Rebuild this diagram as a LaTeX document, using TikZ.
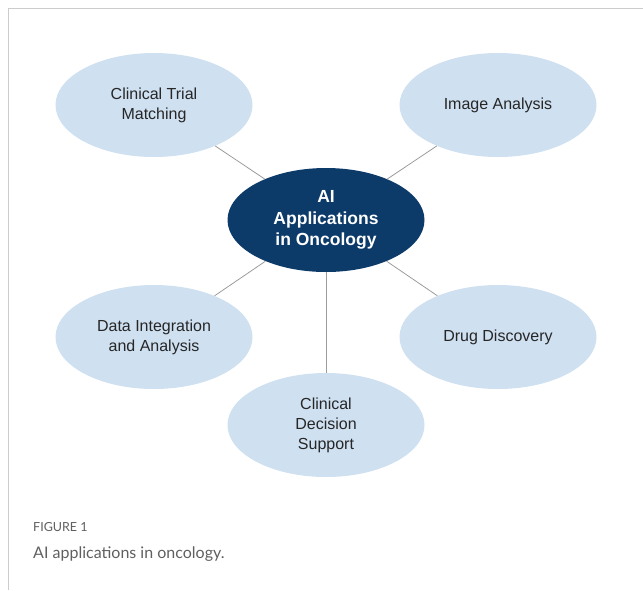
\documentclass[tikz,border=0pt]{standalone}
\usepackage{fontspec}
\setmainfont{Liberation Sans}
\newfontfamily\capfont{Lato}
\usetikzlibrary{shapes.geometric}
\definecolor{paleblue}{HTML}{CFE0F1}
\definecolor{navyblue}{HTML}{0C3A69}
\definecolor{linkgray}{HTML}{9C9C9C}
\definecolor{framegray}{HTML}{CCCCCC}
\definecolor{capgray}{HTML}{5F5F5F}

\begin{document}
\begin{tikzpicture}[x=1pt,y=-1pt,
	app/.style={ellipse,fill=paleblue,minimum width=197pt,minimum height=104pt,inner sep=0pt,
		align=center,text=black!85,font=\fontsize{16}{20}\selectfont},
	hub/.style={app,fill=navyblue,text=white,font=\fontsize{17.5}{21.5}\selectfont\bfseries},
	link/.style={draw=linkgray,line width=0.8pt}]
	\useasboundingbox (0,0) rectangle (643,590);
	% frame
	\draw [framegray,line width=1pt] (643,8) -- (8,8) -- (8,590);
	% links first, ellipses on top
	\node [hub] (ai) at (326,220) {AI\\Applications\\in Oncology};
	\node [app] (trial) at (154,105) {Clinical Trial\\Matching};
	\node [app] (image) at (498,105) {Image Analysis};
	\node [app] (data) at (154,337) {Data Integration\\and Analysis};
	\node [app] (drug) at (498,337) {Drug Discovery};
	\node [app] (decision) at (326,425) {Clinical\\Decision\\Support};
	\draw [link] (ai) -- (trial);
	\draw [link] (ai) -- (image);
	\draw [link] (ai) -- (data);
	\draw [link] (ai) -- (drug);
	\draw [link] (ai) -- (decision);
	% caption
	\node [anchor=base west,inner sep=0pt,text=capgray,font=\capfont\fontsize{12.5}{15}\selectfont] (fig) at (33,531) {FIGURE 1};
	\node [anchor=base west,inner sep=0pt,text=capgray,font=\capfont\fontsize{16}{20}\selectfont] (cap) at (33,558) {AI applications in oncology.};
\end{tikzpicture}
\end{document}
